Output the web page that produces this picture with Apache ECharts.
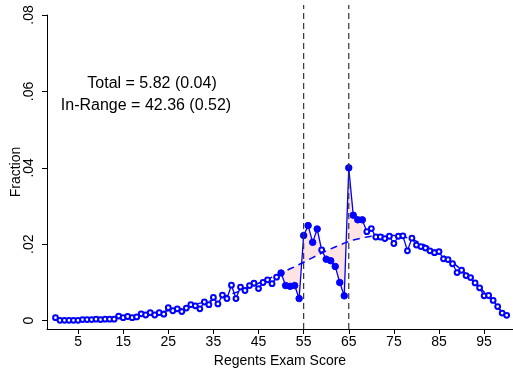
<!DOCTYPE html>
<html>
<head>
<meta charset="utf-8">
<script src="https://cdn.jsdelivr.net/npm/echarts@6/dist/echarts.min.js"></script>
<style>
  html, body { margin: 0; padding: 0; background: #fff; }
  #chart { width: 513px; height: 375px; }
</style>
</head>
<body>
<div id="chart"></div>
<script>
// regents exam scores
var scores = [
  0, 1, 2, 3, 4, 5, 6, 7, 8, 9,
  10, 11, 12, 13, 14, 15, 16, 17, 18, 19,
  20, 21, 22, 23, 24, 25, 26, 27, 28, 29,
  30, 31, 32, 33, 34, 35, 36, 37, 38, 39,
  40, 41, 42, 43, 44, 45, 46, 47, 48, 49,
  50, 51, 52, 53, 54, 55, 56, 57, 58, 59,
  60, 61, 62, 63, 64, 65, 66, 67, 68, 69,
  70, 71, 72, 73, 74, 75, 76, 77, 78, 79,
  80, 81, 82, 83, 84, 85, 86, 87, 88, 89,
  90, 91, 92, 93, 94, 95, 96, 97, 98, 99,
  100
]
// observed fraction of students at each score
var fraction = [
  0.0008, 0.0001, 0.0001, 0.0001, 0.0001, 0.0001, 0.0003, 0.0003, 0.0003, 0.0004,
  0.0003, 0.0004, 0.0004, 0.0004, 0.0012, 0.0008, 0.0011, 0.0008, 0.0010, 0.0018,
  0.0015, 0.0021, 0.0015, 0.0021, 0.0017, 0.0034, 0.0026, 0.0031, 0.0024, 0.0033,
  0.0042, 0.0039, 0.0031, 0.0049, 0.0042, 0.0061, 0.0044, 0.0067, 0.0058, 0.0093,
  0.0058, 0.0088, 0.0079, 0.0092, 0.0098, 0.0084, 0.0100, 0.0107, 0.0097, 0.0114,
  0.0125, 0.0092, 0.0090, 0.0092, 0.0058, 0.0223, 0.0249, 0.0205, 0.0240, 0.0185,
  0.0161, 0.0157, 0.0142, 0.0100, 0.0065, 0.0400, 0.0276, 0.0264, 0.0264, 0.0233,
  0.0241, 0.0219, 0.0219, 0.0215, 0.0221, 0.0202, 0.0221, 0.0222, 0.0183, 0.0216,
  0.0198, 0.0194, 0.0190, 0.0183, 0.0178, 0.0181, 0.0162, 0.0160, 0.0149, 0.0126,
  0.0132, 0.0118, 0.0113, 0.0099, 0.0086, 0.0065, 0.0066, 0.0053, 0.0037, 0.0020,
  0.0014
]
// counterfactual (fitted) distribution
var fitted = [
  0.0002, 0.0002, 0.0002, 0.0002, 0.0003, 0.0003, 0.0003, 0.0004, 0.0004, 0.0005,
  0.0005, 0.0006, 0.0007, 0.0008, 0.0009, 0.0010, 0.0011, 0.0012, 0.0014, 0.0015,
  0.0017, 0.0018, 0.0020, 0.0022, 0.0024, 0.0026, 0.0028, 0.0030, 0.0032, 0.0035,
  0.0040, 0.0043, 0.0046, 0.0048, 0.0051, 0.0055, 0.0058, 0.0062, 0.0066, 0.0070,
  0.0074, 0.0078, 0.0083, 0.0088, 0.0093, 0.0098, 0.0103, 0.0108, 0.0114, 0.0119,
  0.0125, 0.0130, 0.0136, 0.0141, 0.0147, 0.0153, 0.0159, 0.0165, 0.0171, 0.0177,
  0.0183, 0.0188, 0.0193, 0.0198, 0.0203, 0.0207, 0.0211, 0.0214, 0.0217, 0.0219,
  0.0221, 0.0223, 0.0224, 0.0224, 0.0224, 0.0223, 0.0222, 0.0220, 0.0217, 0.0213,
  0.0208, 0.0203, 0.0197, 0.0191, 0.0185, 0.0178, 0.0170, 0.0162, 0.0153, 0.0143,
  0.0133, 0.0122, 0.0111, 0.0099, 0.0087, 0.0075, 0.0062, 0.0049, 0.0036, 0.0023,
  0.0010
]
var cutoffs = [55, 65]
// scores drawn with filled markers (manipulation region)
var filledScores = [50, 51, 52, 53, 54, 55, 56, 57, 58, 60, 61, 62, 63, 64, 65, 66, 67, 68]
// shaded segments start at these scores
var shadeScores = [50, 51, 52, 53, 54, 55, 56, 57, 58, 59, 60, 61, 62, 63, 64, 65, 66, 67]
var xTicks = [5, 15, 25, 35, 45, 55, 65, 75, 85, 95]
var yTicks = [0, 0.02, 0.04, 0.06, 0.08]
var notes = ['Total = 5.82 (0.04)', 'In-Range = 42.36 (0.52)']

var font = '"Liberation Sans", Arial, sans-serif'
var blue = '#0000ff'
var yMin = -0.00217

var chart = echarts.init(document.getElementById('chart'))

var observedData = scores.map(function (s, i) {
  var filled = filledScores.indexOf(s) >= 0
  return {
    value: [s, fraction[i]],
    symbol: filled ? 'circle' : 'emptyCircle',
    symbolSize: filled ? 6.5 : 4.8
  }
})

chart.setOption({
  animation: false,
  backgroundColor: '#fff',
  grid: { left: 47, right: 0, top: 15, bottom: 46, outerBoundsMode: 'none', containLabel: false },
  xAxis: {
    type: 'value',
    min: -1.88,
    max: 101.4,
    name: 'Regents Exam Score',
    nameLocation: 'middle',
    nameGap: 22,
    nameTextStyle: { fontFamily: font, fontSize: 14, color: '#000' },
    axisLine: { onZero: false, lineStyle: { color: '#000', width: 1 } },
    axisTick: { customValues: xTicks, length: 5, lineStyle: { color: '#000' } },
    axisLabel: { customValues: xTicks, margin: 6, fontFamily: font, fontSize: 14, color: '#000' },
    splitLine: { show: false }
  },
  yAxis: {
    type: 'value',
    min: yMin,
    max: 0.08,
    name: 'Fraction',
    nameLocation: 'middle',
    nameGap: 24,
    nameMoveOverlap: false,
    nameTextStyle: { fontFamily: font, fontSize: 14, color: '#000' },
    axisLine: { show: true, onZero: false, lineStyle: { color: '#000', width: 1 } },
    axisTick: { show: true, customValues: yTicks, length: 5, lineStyle: { color: '#000' } },
    axisLabel: {
      customValues: yTicks,
      rotate: 90,
      margin: 11,
      fontFamily: font,
      fontSize: 14,
      color: '#000',
      formatter: function (v) {
        return v === 0 ? '0' : v.toFixed(2).replace(/^0/, '')
      }
    },
    splitLine: { show: false }
  },
  graphic: [
    { type: 'text', x: 152, y: 84, style: { text: notes[0], textAlign: 'center', textVerticalAlign: 'middle', font: '16px ' + font, fill: '#000' } },
    { type: 'text', x: 146, y: 106, style: { text: notes[1], textAlign: 'center', textVerticalAlign: 'middle', font: '16px ' + font, fill: '#000' } }
  ],
  series: [
    {
      // pink area between observed and fitted
      type: 'custom',
      z: 1,
      silent: true,
      data: shadeScores.map(function (s) { return [s, 0] }),
      renderItem: function (params, api) {
        var s = api.value(0)
        var k = scores.indexOf(s)
        var pts = [
          api.coord([scores[k], fraction[k]]),
          api.coord([scores[k + 1], fraction[k + 1]]),
          api.coord([scores[k + 1], fitted[k + 1]]),
          api.coord([scores[k], fitted[k]])
        ]
        return {
          type: 'polygon',
          shape: { points: pts },
          style: { fill: '#fde3e3', stroke: '#fde3e3', lineWidth: 0.5 }
        }
      }
    },
    {
      type: 'line',
      z: 2,
      data: scores.map(function (s, i) { return [s, fitted[i]] }),
      symbol: 'none',
      lineStyle: { color: blue, width: 1.5, type: [7, 5] }
    },
    {
      type: 'line',
      z: 3,
      data: observedData,
      showAllSymbol: true,
      lineStyle: { color: blue, width: 1.3 },
      itemStyle: { color: blue, borderColor: blue, borderWidth: 1 }
    },
    {
      // cutoff lines
      type: 'custom',
      z: 4,
      silent: true,
      data: cutoffs.map(function (c) { return [c, 0] }),
      renderItem: function (params, api) {
        var p = api.coord([api.value(0), yMin])
        return {
          type: 'line',
          shape: { x1: p[0], y1: p[1], x2: p[0], y2: params.coordSys.y - 10 },
          style: { stroke: '#333', lineWidth: 1.2, lineDash: [6, 4] }
        }
      }
    }
  ]
})
</script>
</body>
</html>
